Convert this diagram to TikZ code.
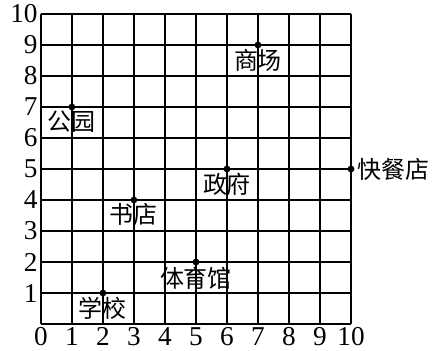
\documentclass[tikz,border=0pt]{standalone}
\usepackage{fontspec}
\setmainfont{Liberation Serif}
\newfontfamily\numfont{Liberation Serif}
\newfontfamily\cjk{Noto Sans CJK SC}
\usepackage{tikz}
\usetikzlibrary{positioning}

\begin{document}
\begin{tikzpicture}[x=1cm,y=1cm,
  place/.style={circle,fill,inner sep=0pt,minimum size=2.2mm},
  placename/.style={font=\fontsize{22pt}{24pt}\cjk,inner sep=0pt},
  axisnum/.style={font=\fontsize{25pt}{27pt}\numfont,inner sep=0pt}]
\useasboundingbox (-1.32,-0.84) rectangle (12.87,10.45);
% grid and axis numbers
\draw[line width=1.1pt] (0,0) grid (10,10);
\foreach \i in {0,...,10}
  \node[axisnum,anchor=base] (x\i) at (\i,-0.7) {\i};
\foreach \i in {1,...,10}
  \node[axisnum,anchor=east] (y\i) at (-0.1,\i) {\i};
% places
\node[place] (shangchang) at (7,9) {};
\node[place] (gongyuan) at (1,7) {};
\node[place] (zhengfu) at (6,5) {};
\node[place] (kuaican) at (10,5) {};
\node[place] (shudian) at (3,4) {};
\node[place] (tiyuguan) at (5,2) {};
\node[place] (xuexiao) at (2,1) {};
% names
\node[placename,below=0pt of shangchang] (shangchang-l) {商场};
\node[placename,below=0pt of gongyuan] (gongyuan-l) {公园};
\node[placename,below=0pt of zhengfu] (zhengfu-l) {政府};
\node[placename,right=0.1cm of kuaican] (kuaican-l) {快餐店};
\node[placename,below=0pt of shudian] (shudian-l) {书店};
\node[placename,below=0.04cm of tiyuguan] (tiyuguan-l) {体育馆};
\node[placename,below=0pt of xuexiao] (xuexiao-l) {学校};
\end{tikzpicture}
\end{document}
